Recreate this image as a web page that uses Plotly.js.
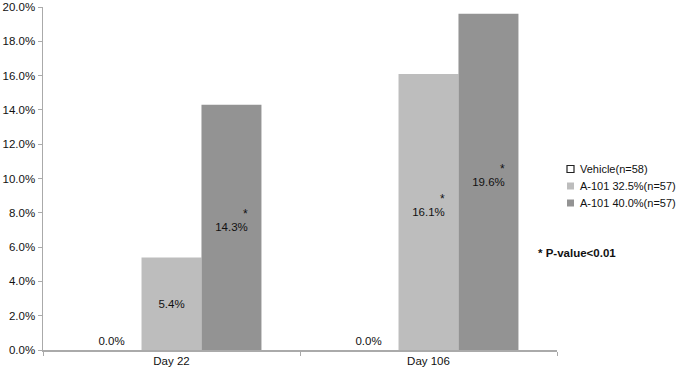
<!DOCTYPE html>
<html>
<head>
<meta charset="utf-8">
<script src="https://cdn.plot.ly/plotly-3.0.1.min.js"></script>
<style>html,body{margin:0;padding:0;background:#fff;}#chart{width:681px;height:372px;}</style>
</head>
<body>
<div id="chart"></div>
<script>
var categories = ['Day 22', 'Day 106'];
var seriesNames = ['Vehicle(n=58)', 'A-101 32.5%(n=57)', 'A-101 40.0%(n=57)'];
var seriesColors = ['#ffffff', '#bdbdbd', '#939393'];
var vehicle = [0.0, 0.0];
var a101_325 = [5.4, 16.1];
var a101_400 = [14.3, 19.6];
var sig325 = [false, true];
var sig400 = [true, true];
var yTicks = [0, 2, 4, 6, 8, 10, 12, 14, 16, 18, 20];

var FONT = 'Liberation Sans, Arial, Helvetica, sans-serif';
function lbl(v){ return v.toFixed(1) + '%'; }
var txtFont = {family:FONT, size:11.5, color:'#111'};
var legFont = {family:FONT, size:11, color:'#111'};

var traces = [
  {type:'bar', name:seriesNames[0], x:categories, y:vehicle,
   marker:{color:seriesColors[0], line:{width:0}},
   text:vehicle.map(lbl), textposition:'outside', cliponaxis:false,
   textfont:txtFont, hoverinfo:'none'},
  {type:'bar', name:seriesNames[1], x:categories, y:a101_325,
   marker:{color:seriesColors[1], line:{width:0}},
   text:a101_325.map(lbl), textposition:'inside', insidetextanchor:'middle',
   textfont:txtFont, hoverinfo:'none'},
  {type:'bar', name:seriesNames[2], x:categories, y:a101_400,
   marker:{color:seriesColors[2], line:{width:0}},
   text:a101_400.map(lbl), textposition:'inside', insidetextanchor:'middle',
   textfont:txtFont, hoverinfo:'none'}
];

// plot area in pixels (for placing the side legend in paper units)
var M = {l:43, r:124, t:7, b:22};
var W = 681, H = 372;
var pw = W - M.l - M.r, ph = H - M.t - M.b;
function px2x(px){ return (px - M.l) / pw; }
function py2y(py){ return (H - M.b - py) / ph; }

var annotations = [];
var shapes = [];
function addStars(vals, sig, xoff){
  for (var i = 0; i < vals.length; i++){
    if (sig[i]) annotations.push({x:categories[i], y:vals[i]/2, xref:'x', yref:'y',
      text:'*', showarrow:false, xshift:xoff + 14, yshift:13,
      font:{family:FONT, size:12, color:'#111'}});
  }
}
addStars(a101_325, sig325, 0);
addStars(a101_400, sig400, 60);

// side legend
var legRowY = [169, 186, 203];
for (var k = 0; k < seriesNames.length; k++){
  var cy = legRowY[k];
  shapes.push({type:'rect', xref:'paper', yref:'paper',
    x0:px2x(567), x1:px2x(574), y0:py2y(cy + 3.5), y1:py2y(cy - 3.5),
    fillcolor:seriesColors[k],
    line:{color: k === 0 ? '#222222' : seriesColors[k], width: k === 0 ? 1.2 : 0}});
  annotations.push({xref:'paper', yref:'paper', x:px2x(578), y:py2y(cy),
    xanchor:'left', yanchor:'middle', text:seriesNames[k], showarrow:false, font:legFont});
}
annotations.push({xref:'paper', yref:'paper', x:px2x(536), y:py2y(253), xanchor:'left', yanchor:'middle',
  text:'<b>* P-value<0.01</b>', showarrow:false, font:txtFont});

var layout = {
  width:W, height:H,
  margin:{l:M.l, r:M.r, t:M.t, b:M.b, pad:0},
  paper_bgcolor:'#ffffff', plot_bgcolor:'#ffffff',
  barmode:'group', bargap:0.3, bargroupgap:0,
  font:{family:FONT, size:11.5, color:'#111'},
  xaxis:{type:'category', showline:true, linecolor:'#aaaaaa', linewidth:1.5,
    ticks:'outside', tickson:'boundaries', ticklen:4, tickcolor:'#aaaaaa',
    showgrid:false, zeroline:false, fixedrange:true, tickfont:txtFont},
  yaxis:{range:[0,20], tickvals:yTicks, ticktext:yTicks.map(function(v){return v.toFixed(1)+'%';}),
    showline:true, linecolor:'#aaaaaa', linewidth:1.5,
    ticks:'outside', ticklen:4, tickcolor:'#aaaaaa',
    showgrid:false, zeroline:false, fixedrange:true, tickfont:txtFont},
  showlegend:false,
  annotations:annotations,
  shapes:shapes
};

Plotly.newPlot('chart', traces, layout, {displayModeBar:false, staticPlot:true});
</script>
</body>
</html>
